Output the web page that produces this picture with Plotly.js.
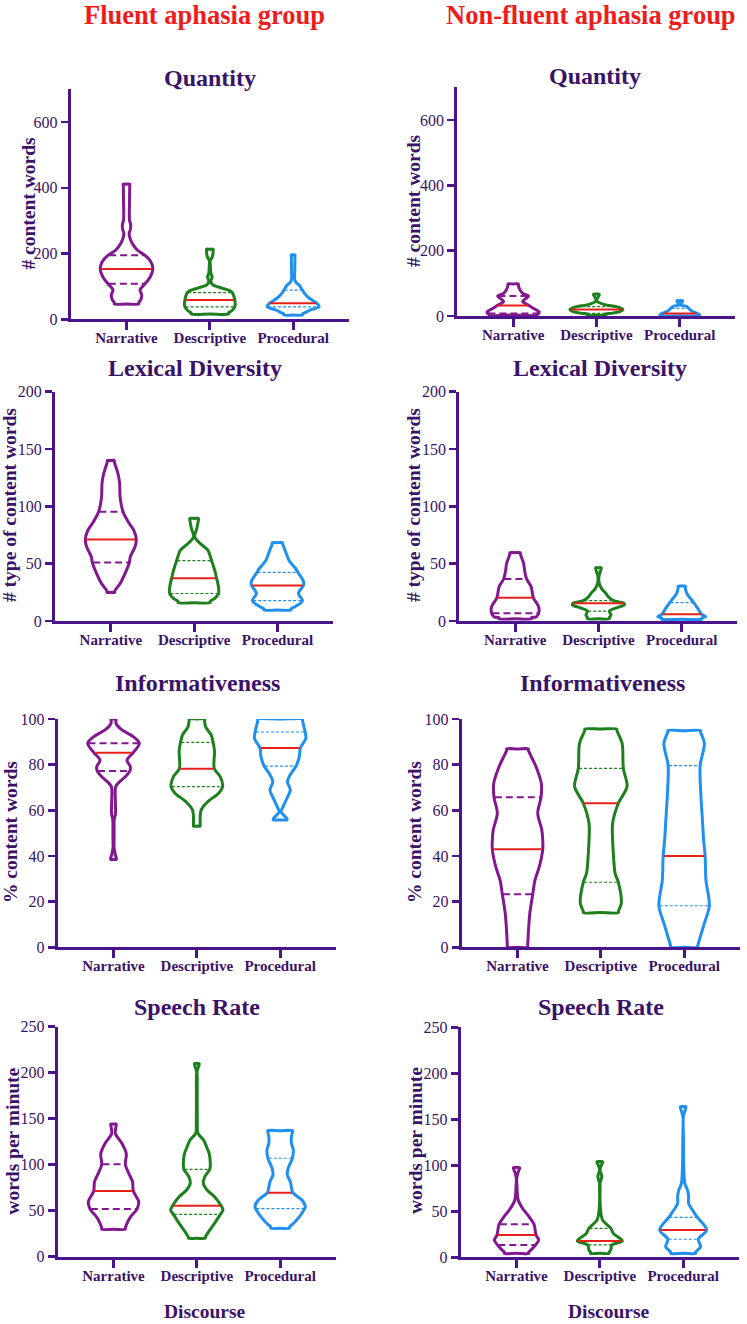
<!DOCTYPE html>
<html><head><meta charset="utf-8">
<script src="https://cdn.plot.ly/plotly-3.0.1.min.js"></script>
<style>html,body{margin:0;padding:0;background:#fff}</style>
</head><body>
<div id="chart" style="width:747px;height:1324px"></div>
<script>
// ---------------- DATA ----------------
const categories = ['Narrative', 'Descriptive', 'Procedural'];
const groupTitles = ['Fluent aphasia group', 'Non-fluent aphasia group'];
const panelTitles = ['Quantity', 'Quantity', 'Lexical Diversity', 'Lexical Diversity',
  'Informativeness', 'Informativeness', 'Speech Rate', 'Speech Rate'];
const yTitles = ['# content words', '# content words', '# type of content words', '# type of content words',
  '% content words', '% content words', 'words per minute', 'words per minute'];
const xTitle = 'Discourse';
const yTicksQuantity = [0, 200, 400, 600];
const yTicksLexical = [0, 50, 100, 150, 200];
const yTicksInform = [0, 20, 40, 60, 80, 100];
const yTicksSpeech = [0, 50, 100, 150, 200, 250];

// Violin profiles: value levels (bottom -> top) and relative density (half-width) at each level
// Quartiles per violin: [Q1, median, Q3]
const quantityFluentLevels = [
  [46.5, 59, 74, 89, 108, 129.5, 153, 175, 195, 210, 232, 252, 262, 275, 290, 301, 360, 411],
  [16, 26, 38, 58.7, 81, 87, 95, 99, 105, 115, 125, 130, 140, 160, 178, 190, 205, 213],
  [13, 20, 28, 38, 48.6, 60, 69, 80, 89, 97, 104, 112, 119, 160, 190, 196]
];
const quantityFluentDensity = [
  [12.2, 14.2, 15.2, 13.5, 18.5, 23.8, 26.3, 24.3, 18.2, 11, 5.5, 3, 2.7, 4, 4, 3, 3, 3.2],
  [18.7, 22, 25, 25, 22.5, 20, 12, 7.7, 3, 1, 2, 2.3, 1, 0.6, 0.4, 2.5, 3.3, 3.3],
  [9.3, 12, 16.8, 26, 23.8, 18, 14.3, 11, 9.3, 7.5, 6, 3, 1.7, 1.7, 1.8, 1.8]
];
const quantityFluentQuartiles = [[108, 153, 195], [38, 58.7, 81], [38, 48.6, 89]];

const quantityNonfluentLevels = [
  [3, 8, 13, 22, 32, 44, 52, 61, 69, 80, 98],
  [3, 8, 14, 20, 28.6, 34, 44, 51, 60, 67],
  [1, 4, 9, 15, 23.5, 29, 34, 40, 47]
];
const quantityNonfluentDensity = [
  [24, 25.5, 26, 21, 16, 9.5, 12, 15.5, 9.7, 6.8, 5.2],
  [9.5, 15, 24, 26.5, 20, 9.5, 1, 0.5, 2, 2.7],
  [18, 20, 17, 12, 9, 7, 0.5, 1.5, 2.7]
];
const quantityNonfluentQuartiles = [[8, 32, 61], [8, 20, 28.6], [3, 8, 23.5]];

const lexicalFluentLevels = [
  [25, 33, 42, 51, 56, 65, 71, 79, 85, 95.3, 108, 120, 128, 140],
  [16, 20, 24, 30, 37.2, 44.5, 52.6, 62, 68, 73.5, 80, 89.5],
  [9.6, 12.5, 17.7, 24, 31, 34.6, 42.4, 46, 50, 53, 62, 68.3]
];
const lexicalFluentDensity = [
  [3.8, 9.5, 14.5, 18.5, 19.5, 24.3, 25.5, 23, 18.5, 12.2, 9.3, 8.8, 7.3, 3.5],
  [16, 21, 24.5, 24.3, 22.5, 20.5, 17.5, 13.5, 5.5, 0.5, 2.5, 4.3],
  [13.5, 17.5, 25, 21, 26, 26, 20.5, 18, 14, 11.5, 7.5, 5.2]
];
const lexicalFluentQuartiles = [[51, 71, 95.3], [24, 37.2, 52.6], [17.7, 31, 42.4]];

const lexicalNonfluentLevels = [
  [2, 3.5, 6.7, 12.5, 20.3, 30, 36.6, 44, 50.3, 59.6],
  [2, 5.2, 8.7, 11.5, 14, 15.4, 17.7, 21, 24, 28.5, 32.8, 38.7, 42, 46.5],
  [1.5, 3.8, 5.8, 11, 16, 18.3, 24, 30.5]
];
const lexicalNonfluentDensity = [
  [16.5, 21, 23.5, 23.5, 18.2, 16, 11.5, 9.5, 8.5, 5.2],
  [11, 12.5, 11, 18, 26, 25.5, 15, 10, 7.5, 3, 0.8, 0.5, 1.5, 2.7],
  [20, 24, 20, 16, 12, 10, 5, 3.5]
];
const lexicalNonfluentQuartiles = [[6.7, 20.3, 36.6], [8.7, 15.4, 17.7], [2, 5.8, 16]];

const informFluentLevels = [
  [38.5, 41, 44.1, 45.6, 50, 55.8, 58.7, 64.5, 70.4, 72.5, 74.7, 77.2, 79.1, 82, 85.2, 89.4, 92.2, 95.2, 98.1, 100],
  [53.1, 60.1, 63.8, 67.5, 70.4, 74.7, 78.2, 82, 85.7, 89.8, 93, 96.6, 100],
  [55.8, 59.4, 61.6, 65.3, 68.9, 72.5, 76.2, 79.4, 83.5, 87.3, 91.5, 94.3, 96.6, 100]
];
const informFluentDensity = [
  [2.8, 1.6, 0.4, 0.5, 0.6, 0.7, 2.0, 1.8, 2.2, 6, 11.8, 16.3, 16.8, 13.5, 19.5, 25.8, 20, 8.5, 2.5, 2.5],
  [3.3, 4.3, 11, 21.8, 25.8, 23.5, 17.5, 17.2, 17.7, 16.3, 14.3, 8.8, 7.7],
  [6.8, 1, 3, 6.8, 10.2, 7.3, 11, 16, 19.2, 20.2, 25.7, 25, 23.8, 22.3]
];
const informFluentQuartiles = [[77.2, 85.2, 89.4], [70.4, 78.2, 89.8], [79.4, 87.3, 94.3]];

const informNonfluentLevels = [
  [0, 6.1, 14.9, 23.2, 29.5, 35.3, 42.9, 47, 51.4, 58.7, 65.7, 71.8, 79.1, 86.9],
  [15.2, 19.3, 28.5, 32.4, 41.2, 47, 54.3, 63.1, 70.4, 78.4, 89.3, 95.6],
  [0, 3.2, 10.5, 18.2, 29.5, 40, 47, 54.3, 68.9, 79.6, 89.3, 94.9]
];
const informNonfluentDensity = [
  [10.2, 10.8, 12.3, 15.2, 17.5, 21.8, 25.2, 25.2, 24.3, 20.2, 23.5, 23.8, 18.5, 10.8],
  [17.5, 20.5, 17.5, 14.3, 12.5, 11.8, 11.8, 17.5, 26.2, 22.5, 21.3, 16],
  [13.5, 15.2, 20.2, 25.2, 21.8, 21, 19.5, 18.5, 16.5, 16, 20.2, 16.3]
];
const informNonfluentQuartiles = [[23.2, 42.9, 65.7], [28.5, 63.1, 78.4], [18.2, 40, 79.6]];

const speechFluentLevels = [
  [29.8, 36.3, 43.5, 51.8, 59.8, 71.4, 81.5, 90.6, 100.4, 112, 123, 134, 144.2],
  [20, 27.2, 36.3, 46, 50.8, 55.4, 65.2, 72.5, 79.8, 87, 95, 101.5, 112.3, 120, 126.8, 134, 150, 175, 195, 201, 205, 210],
  [30.9, 36.3, 43.5, 52.2, 54.3, 61.6, 69.6, 75.4, 81.5, 88.8, 96, 107, 116, 123.3, 130.4, 137]
];
const speechFluentDensity = [
  [11.8, 13.5, 17.2, 23.5, 25.2, 19.8, 19, 15.2, 11.8, 12.8, 8.5, 1.8, 2.7],
  [8.5, 11.8, 17.7, 23.5, 26.2, 24.3, 17.7, 10.2, 6.5, 8, 13, 13.5, 12.3, 9.5, 6.8, 1.2, 0.5, 0.4, 0.4, 0.2, 1.2, 2.3],
  [9.3, 13.5, 19.3, 24.5, 25.2, 21.8, 12.7, 11.3, 10.2, 7.2, 8, 12.2, 13.2, 11.3, 11.3, 12.3]
];
const speechFluentQuartiles = [[51.8, 71.4, 100.4], [46, 55.4, 95], [52.2, 69.6, 107]];

const speechNonfluentLevels = [
  [4.3, 8, 13.4, 18.8, 24.3, 35.9, 44.2, 53.3, 62.3, 76.8, 86, 92, 97.5],
  [4.3, 8, 13.4, 17.8, 26, 31.5, 40.6, 58.7, 75, 80.4, 87.7, 95, 100, 104],
  [4.3, 11.6, 19.6, 29.7, 43.5, 51.4, 58.7, 66, 73.2, 80.4, 131, 152.9, 158, 163.8]
];
const speechNonfluentDensity = [
  [12.2, 14.5, 19, 22.2, 19.5, 17.5, 12.5, 6, 1.7, 0.5, 0.2, 1.5, 3],
  [9.3, 11, 12, 22.5, 13.5, 11, 2.7, 0.3, 0.3, 0.2, 2, 0.2, 1.5, 2.7],
  [12.5, 17.5, 15.2, 23.5, 14.3, 9.3, 5.5, 5.5, 4.3, 1.7, 0.3, 0.2, 1.5, 2.7]
];
const speechNonfluentQuartiles = [[13.4, 24.3, 35.9], [13.4, 17.8, 31.5], [19.6, 29.7, 43.5]];

// ---------------- STYLE / GEOMETRY ----------------
const W = 747, H = 1324;
const SERIF = 'Liberation Serif, Times New Roman, serif';
const AX = '#4a148c';
const TXT = '#3a1268';
const RED_T = '#ee1c1c';
const MED = '#e8201a';
const COLORS = ['#82188f', '#1d7f1d', '#1f8ff0'];
const PLOT_W = 278;
const X_RANGE = [-0.67, 2.667];
const PX_PER_CAT = PLOT_W / (X_RANGE[1] - X_RANGE[0]);
const DENS_SCALE = 1 / PX_PER_CAT;
// [left x, bottom y, top y] of each plot box in pixels
const boxes = [[70.7, 319.3, 89.1], [457.3, 316, 87.3], [55, 621, 391.7], [459.3, 621, 391.7],
  [57.7, 947.3, 719], [461.7, 947.3, 719], [57.7, 1256.7, 1026.7], [460.7, 1257.3, 1027.3]];
const titlePos = [[210, 78], [595, 76], [195, 368], [600, 368], [197, 683], [602, 683], [197, 1007], [601, 1007]];
const yTitlePos = [[27.5, 203], [414, 201], [10, 505], [414, 505], [10, 832], [414, 832], [11.7, 1141], [415, 1141]];

const panels = [
  {lv: quantityFluentLevels, d: quantityFluentDensity, q: quantityFluentQuartiles, range: [0, 700], ticks: yTicksQuantity},
  {lv: quantityNonfluentLevels, d: quantityNonfluentDensity, q: quantityNonfluentQuartiles, range: [0, 700], ticks: yTicksQuantity},
  {lv: lexicalFluentLevels, d: lexicalFluentDensity, q: lexicalFluentQuartiles, range: [0, 200], ticks: yTicksLexical},
  {lv: lexicalNonfluentLevels, d: lexicalNonfluentDensity, q: lexicalNonfluentQuartiles, range: [0, 200], ticks: yTicksLexical},
  {lv: informFluentLevels, d: informFluentDensity, q: informFluentQuartiles, range: [0, 100], ticks: yTicksInform},
  {lv: informNonfluentLevels, d: informNonfluentDensity, q: informNonfluentQuartiles, range: [0, 100], ticks: yTicksInform},
  {lv: speechFluentLevels, d: speechFluentDensity, q: speechFluentQuartiles, range: [0, 250], ticks: yTicksSpeech},
  {lv: speechNonfluentLevels, d: speechNonfluentDensity, q: speechNonfluentQuartiles, range: [0, 250], ticks: yTicksSpeech}
];

function interp(lv, d, y) {
  if (y <= lv[0]) return d[0];
  for (let i = 1; i < lv.length; i++) {
    if (y <= lv[i]) {
      const t = (y - lv[i - 1]) / (lv[i] - lv[i - 1]);
      return d[i - 1] + t * (d[i] - d[i - 1]);
    }
  }
  return d[d.length - 1];
}

const traces = [];
const layout = {
  width: W, height: H, margin: {l: 0, r: 0, t: 0, b: 0},
  paper_bgcolor: '#fff', plot_bgcolor: 'rgba(0,0,0,0)', showlegend: false,
  annotations: []
};

panels.forEach((p, i) => {
  const n = i === 0 ? '' : String(i + 1);
  const xa = 'x' + n, ya = 'y' + n;
  const b = boxes[i];
  const plotH = b[1] - b[2];
  const yPerPx = (p.range[1] - p.range[0]) / plotH;
  const eps = 1.2 * yPerPx;
  p.lv.forEach((lev, k) => {
    const d = p.d[k];
    const L = lev.length;
    const ys = [lev[0], lev[0] + eps], ws = [d[0], d[0]];
    for (let j = 1; j < L - 1; j++) { ys.push(lev[j]); ws.push(d[j]); }
    ys.push(lev[L - 1] - eps, lev[L - 1]); ws.push(d[L - 1], d[L - 1]);
    const xs = [k], yy = [lev[0]];
    for (let j = 0; j < ys.length; j++) { xs.push(k + ws[j] * DENS_SCALE); yy.push(ys[j]); }
    xs.push(k); yy.push(lev[L - 1]);
    for (let j = ys.length - 1; j >= 0; j--) { xs.push(k - ws[j] * DENS_SCALE); yy.push(ys[j]); }
    xs.push(k); yy.push(lev[0]);
    traces.push({type: 'scatter', mode: 'lines', x: xs, y: yy, xaxis: xa, yaxis: ya,
      line: {color: COLORS[k], width: 3, shape: 'spline', smoothing: 0.9}, hoverinfo: 'skip'});
    const isPurple = k === 0;
    p.q[k].forEach((val, qi) => {
      const half = Math.max(0, interp(lev, d, val) - 0.8) * DENS_SCALE;
      const line = qi === 1 ? {color: MED, width: 2}
        : (isPurple ? {color: COLORS[k], width: 2, dash: '7px,4px'} : {color: COLORS[k], width: 1.2, dash: '3px,2px'});
      traces.push({type: 'scatter', mode: 'lines', x: [k - half, k + half], y: [val, val],
        xaxis: xa, yaxis: ya, line: line, hoverinfo: 'skip'});
    });
  });
  layout['xaxis' + n] = {
    domain: [b[0] / W, (b[0] + PLOT_W) / W], range: X_RANGE, anchor: ya,
    showline: true, linecolor: AX, linewidth: 3, ticks: 'outside', ticklen: 8, tickwidth: 3, tickcolor: AX,
    tickvals: [0, 1, 2], ticktext: categories.map(c => '<b>' + c + '</b>'), ticklabelstandoff: -5,
    tickfont: {family: SERIF, size: 15, color: TXT}, showgrid: false, zeroline: false, fixedrange: true
  };
  layout['yaxis' + n] = {
    domain: [1 - b[1] / H, 1 - b[2] / H], range: p.range, anchor: xa,
    showline: true, linecolor: AX, linewidth: 3, ticks: 'outside', ticklen: 7, tickwidth: 2.5, tickcolor: AX,
    tickvals: p.ticks, tickfont: {family: SERIF, size: 16, color: TXT},
    showgrid: false, zeroline: false, fixedrange: true
  };
  layout.annotations.push({text: '<b>' + panelTitles[i] + '</b>', xref: 'paper', yref: 'paper',
    x: titlePos[i][0] / W, y: 1 - titlePos[i][1] / H, xanchor: 'center', yanchor: 'middle', showarrow: false,
    font: {family: SERIF, size: 24, color: TXT}});
  layout.annotations.push({text: '<b>' + yTitles[i] + '</b>', xref: 'paper', yref: 'paper', textangle: -90,
    x: yTitlePos[i][0] / W, y: 1 - yTitlePos[i][1] / H, xanchor: 'center', yanchor: 'middle', showarrow: false,
    font: {family: SERIF, size: 19.5, color: TXT}});
});

[[204, 15], [591, 15]].forEach((pos, g) => {
  layout.annotations.push({text: '<b>' + groupTitles[g] + '</b>', xref: 'paper', yref: 'paper',
    x: pos[0] / W, y: 1 - pos[1] / H, xanchor: 'center', yanchor: 'middle', showarrow: false,
    font: {family: SERIF, size: 26.5, color: RED_T}});
});
[[205, 1311], [609, 1311]].forEach(pos => {
  layout.annotations.push({text: '<b>' + xTitle + '</b>', xref: 'paper', yref: 'paper',
    x: pos[0] / W, y: 1 - pos[1] / H, xanchor: 'center', yanchor: 'middle', showarrow: false,
    font: {family: SERIF, size: 19.5, color: TXT}});
});

Plotly.newPlot('chart', traces, layout, {staticPlot: true, displayModeBar: false});
</script>
</body></html>
